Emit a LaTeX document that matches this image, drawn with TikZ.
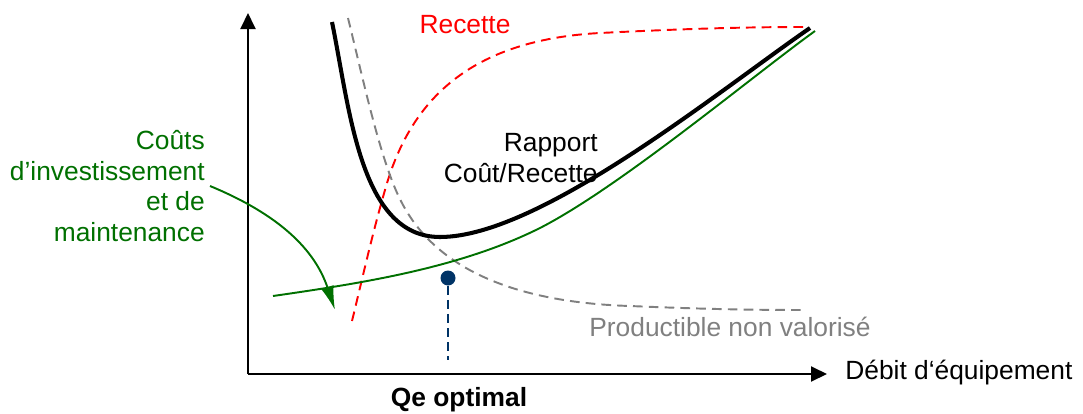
\documentclass[tikz,border=0pt]{standalone}
\usepackage{fontspec}
\setmainfont{Liberation Sans}
\usepackage{tikz}
\usetikzlibrary{positioning,arrows.meta}

\definecolor{coutgreen}{RGB}{0,112,0}
\definecolor{qenavy}{RGB}{0,51,102}
\definecolor{prodgray}{RGB}{128,128,128}

\begin{document}
\begin{tikzpicture} [x=0.02cm, y=-0.02cm, line join=round,
                    every node/.style={font=\fontsize{15}{17.6}\selectfont, inner sep=0pt},
                    axe/.style={line width=1.1pt, -{Triangle[length=3.2mm,width=3mm]}},
                    rapport/.style={line width=2.3pt},
                    cout/.style={coutgreen, line width=1.1pt},
                    recette/.style={red, line width=1.1pt, dash pattern=on 5.5pt off 3.5pt},
                    perte/.style={prodgray, line width=1.1pt, dash pattern=on 5.5pt off 3.5pt}]

\useasboundingbox (0,0) rectangle (1083,413);

% axes
\coordinate (O) at (248,374);
\coordinate (ytip) at (248,13);
\coordinate (xtip) at (827,374);
\draw[axe] (O) -- (ytip);
\draw[axe] (O) -- (xtip);

% courbes
\draw[recette] (352,321) .. controls (362,280) and (372,235) .. (385,190)
    .. controls (410,100) and (470,40) .. (600,33)
    .. controls (680,29) and (740,27) .. (807,27);
\draw[perte] (348,18) .. controls (362,75) and (375,135) .. (391,178)
    .. controls (405,215) and (440,300) .. (630,306)
    .. controls (700,309) and (750,310) .. (803,310);
\draw[cout] (273,296) .. controls (363,283) and (460,268) .. (540,228)
    .. controls (620,187) and (750,78) .. (815,31);
\draw[rapport] (332,22) .. controls (350,110) and (360,237) .. (440,237)
    .. controls (540,237) and (720,90) .. (810,28);

% point optimal
\node[circle, fill=qenavy, minimum size=0.3cm] (opt) at (448,278) {};
\coordinate (optbas) at (448,360);
\draw[qenavy, line width=1.1pt, dash pattern=on 5pt off 3pt] (opt) -- (optbas);

% textes
\node[red] (rec) at (465,25) {Recette};
\node[align=right, anchor=east] (rap) at (598,158) {Rapport\\Coût/Recette};
\node[coutgreen, align=right, anchor=east, inner xsep=2.8pt] (cts) at (210,186)
    {Coûts\\d’investissement\\et de\\maintenance};
\node[prodgray, anchor=west] (prod) at (589,327) {Productible non valorisé};
\node[anchor=west] (debit) at (845,373) {Débit d‘équipement};
\node[font=\fontsize{15}{17.6}\selectfont\bfseries] (qe) at (459,400) {Qe optimal};

\coordinate (ctsfin) at (335,310);
\draw[cout, -{Latex[length=4.8mm,width=2.6mm]}] (cts.east) .. controls (280,215) and (315,250) .. (ctsfin);
\end{tikzpicture}
\end{document}
